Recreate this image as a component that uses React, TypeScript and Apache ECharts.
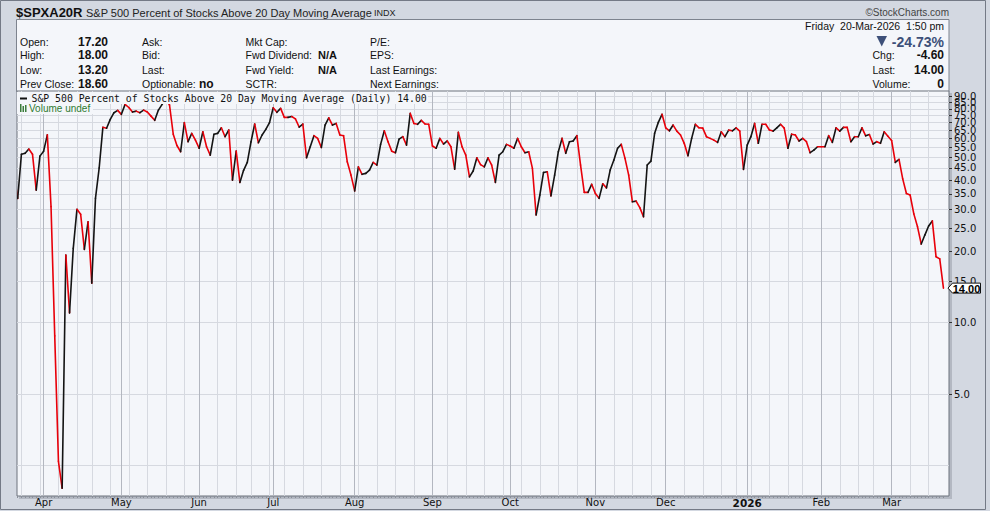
import React, { useEffect, useRef } from 'react';
import * as echarts from 'echarts';

// ---------- data ----------
const START_DATE = '2025-03-20';
const HOLIDAYS = ['2025-04-18', '2025-05-26', '2025-06-19', '2025-07-04', '2025-09-01', '2025-11-27', '2025-12-25', '2026-01-01', '2026-01-19', '2026-02-16'];

// daily closes of $SPXA20R from 2025-03-20 to 2026-03-20 (trading days)
const VALUES = [
  42, 33.5, 51.4, 51.9, 54.1, 51.4, 36.3, 50.5, 53.0, 62.1,
  30.9, 8.8, 2.6, 2.0, 19.3, 11.0, 20.6, 30.1, 28.7, 20.4,
  26.7, 14.7, 33.5, 45.0, 66.8, 66.2, 72.2, 77.0, 78.8, 75.8,
  83.5, 81.0, 77.5, 78.2, 77.0, 79.0, 77.5, 74.5, 71.5, 79.0,
  83.5, 88.0, 83.0, 62.5, 56.0, 52.7, 69.9, 58.1, 63.0, 59.0,
  54.5, 64.0, 55.3, 51.0, 62.5, 63.0, 66.5, 61.0, 65.1, 40.0,
  53.0, 39.1, 44.0, 47.5, 58.0, 69.0, 57.5, 62.0, 65.5, 69.9,
  80.8, 77.3, 80.3, 73.6, 73.6, 74.2, 72.5, 67.0, 69.0, 49.7,
  55.3, 61.6, 60.0, 54.9, 68.3, 73.3, 68.3, 69.4, 62.0, 61.6,
  47.8, 42.0, 36.0, 45.5, 42.3, 42.7, 44.1, 47.5, 46.3, 56.6,
  64.6, 58.1, 53.0, 52.2, 59.6, 61.0, 56.2, 76.5, 69.4, 68.8,
  71.5, 69.0, 68.8, 55.7, 54.5, 60.0, 56.8, 58.5, 55.3, 44.5,
  63.6, 55.3, 51.0, 41.3, 43.7, 49.7, 46.5, 45.5, 49.7, 46.3,
  39.1, 51.0, 52.7, 56.6, 55.7, 54.5, 60.0, 55.3, 52.2, 52.7,
  44.8, 28.5, 34.6, 43.1, 43.4, 34.3, 42.0, 52.7, 60.0, 51.9,
  58.1, 58.5, 61.6, 46.3, 35.5, 35.5, 38.4, 35.1, 33.5, 38.6,
  37.1, 44.1, 48.6, 54.5, 56.6, 49.4, 42.0, 32.4, 32.6, 30.6,
  28.0, 46.3, 48.1, 63.0, 70.1, 75.8, 66.5, 64.6, 68.3, 64.4,
  62.0, 57.2, 50.7, 60.0, 68.8, 66.5, 66.3, 61.0, 60.0, 59.0,
  57.7, 64.0, 61.0, 65.0, 64.6, 66.5, 64.4, 44.4, 56.2, 61.0,
  69.4, 57.2, 68.8, 68.8, 65.1, 64.4, 66.5, 68.8, 66.3, 54.5,
  62.5, 62.0, 58.5, 60.0, 58.1, 52.2, 53.5, 55.3, 55.3, 55.3,
  61.6, 57.7, 66.5, 64.4, 66.8, 66.8, 58.1, 61.0, 61.0, 66.5,
  61.5, 62.3, 56.8, 58.1, 57.2, 64.0, 61.3, 58.8, 47.5, 48.9,
  40.5, 35.1, 34.6, 28.8, 25.4, 21.5, 23.5, 25.6, 26.9, 19.0,
  18.6, 14.0,
];

const Y_GRID_VALUES = [2.5, 5, 10, 15, 20, 25, 30, 35, 40, 45, 50, 55, 60, 65, 70, 75, 80, 85, 90];
const Y_LABEL_VALUES = [5, 10, 15, 20, 25, 30, 35, 40, 45, 50, 55, 60, 65, 70, 75, 80, 85, 90];
const Y_RANGE = [1.856, 95.1];
const MONTH_NAMES = ['Jan', 'Feb', 'Mar', 'Apr', 'May', 'Jun', 'Jul', 'Aug', 'Sep', 'Oct', 'Nov', 'Dec'];

const SYMBOL = '$SPXA20R';
const SYMBOL_NAME = 'S&P 500 Percent of Stocks Above 20 Day Moving Average';
const EXCHANGE = 'INDX';
const QUOTE_DATE = 'Friday  20-Mar-2026  1:50 pm';
const OPEN_HIGH_LOW = ['17.20', '18.00', '13.20'];

// ---------- helpers ----------
const FONT = '"Liberation Sans", Arial, sans-serif';
const PLOT_BG = '#f4f6fa';

function tradingDates(start: string, count: number, holidays: string[]) {
  const out: Date[] = [];
  const hs = new Set(holidays);
  const d = new Date(start + 'T00:00:00Z');
  while (out.length < count) {
    const wd = d.getUTCDay();
    const iso = d.toISOString().slice(0, 10);
    if (wd !== 0 && wd !== 6 && !hs.has(iso)) out.push(new Date(d.getTime()));
    d.setUTCDate(d.getUTCDate() + 1);
  }
  return out;
}

function text(t: string, x: number, y: number, font: string, fill = '#111', align = 'left', z = 60) {
  return {
    type: 'text',
    x, y, z, silent: true,
    style: { text: t, font, fill, textAlign: align, align, textVerticalAlign: 'middle', verticalAlign: 'middle' },
  };
}

function buildOption() {
  const dates = tradingDates(START_DATE, VALUES.length, HOLIDAYS);
  const n = VALUES.length;
  const monthStarts: number[] = [];
  const weekStarts: number[] = [];
  const monthLabel = new Map<number, string>();
  for (let k = 1; k < n; k++) {
    const d = dates[k], p = dates[k - 1];
    if (d.getUTCMonth() !== p.getUTCMonth()) {
      monthStarts.push(k);
      monthLabel.set(k, d.getUTCMonth() === 0 ? '{y|' + d.getUTCFullYear() + '}' : MONTH_NAMES[d.getUTCMonth()]);
    }
    if (d.getUTCDay() < p.getUTCDay()) weekStarts.push(k);
  }
  const dayTicks: number[] = [];
  for (let k = 1; k < n; k++) dayTicks.push(k);

  const segData: number[][] = [];
  for (let k = 1; k < n; k++) segData.push([k, Math.log10(VALUES[k]), Math.log10(VALUES[k - 1])]);

  const last = VALUES[n - 1];
  const prev = VALUES[n - 2];
  const chg = last - prev;
  const pct = (chg / prev) * 100;

  const xMin = 0.81, xMax = 252.5;
  const yMin = Math.log10(Y_RANGE[0]), yMax = Math.log10(Y_RANGE[1]);

  const f11 = `10.5px ${FONT}`;
  const b12 = `bold 12px ${FONT}`;
  const b11 = `bold 11px ${FONT}`;
  const rows = [41.5, 55.3, 69.5, 83.5];

  const graphics: any[] = [
    { type: 'rect', silent: true, z: -5, shape: { x: 0.5, y: 0.5, width: 985, height: 509 }, style: { fill: 'none', stroke: '#747a86', lineWidth: 1 } },
    { type: 'rect', silent: true, z: -4, shape: { x: 16.5, y: 19.5, width: 932.5, height: 72 }, style: { fill: PLOT_BG, stroke: '#7d838e', lineWidth: 1 } },
    // plot shadow
    { type: 'rect', silent: true, z: -10, shape: { x: 19, y: 93, width: 933, height: 406 }, style: { fill: '#b3b8c2' } },
    text(SYMBOL, 16, 12, `bold 13px ${FONT}`, '#111'),
    text(SYMBOL_NAME, 86, 12.5, `11px ${FONT}`, '#222'),
    text(EXCHANGE, 374, 12.5, `9px ${FONT}`, '#222'),
    text('\u00A9StockCharts.com', 949, 12, `10px ${FONT}`, '#444', 'right'),
    // column 1
    text('Open:', 20, rows[0], f11), text('High:', 20, rows[1], f11), text('Low:', 20, rows[2], f11), text('Prev Close:', 20, rows[3], f11),
    text(OPEN_HIGH_LOW[0], 78, rows[0], b12), text(OPEN_HIGH_LOW[1], 78, rows[1], b12), text(OPEN_HIGH_LOW[2], 78, rows[2], b12), text(prev.toFixed(2), 78, rows[3], b12),
    // column 2
    text('Ask:', 142, rows[0], f11), text('Bid:', 142, rows[1], f11), text('Last:', 142, rows[2], f11), text('Optionable:', 142, rows[3], f11),
    text('no', 199, rows[3] + 0.5, b12),
    // column 3
    text('Mkt Cap:', 245.5, rows[0], f11), text('Fwd Dividend:', 245.5, rows[1], f11), text('Fwd Yield:', 245.5, rows[2], f11), text('SCTR:', 245.5, rows[3], f11),
    text('N/A', 318, rows[1], b11), text('N/A', 318, rows[2], b11),
    // column 4
    text('P/E:', 370, rows[0], f11), text('EPS:', 370, rows[1], f11), text('Last Earnings:', 370, rows[2], f11), text('Next Earnings:', 370, rows[3], f11),
    // right block
    text(QUOTE_DATE, 944, 26, f11, '#111', 'right'),
    { type: 'polygon', silent: true, z: 60, shape: { points: [[876.5, 36], [887, 36], [881.75, 46.5]] }, style: { fill: '#3d5079' } },
    text(pct.toFixed(2) + '%', 944, 41.5, `bold 14px ${FONT}`, '#3d5079', 'right'),
    text('Chg:', 872.5, rows[1], f11), text(chg.toFixed(2), 944, rows[1], b12, '#111', 'right'),
    text('Last:', 872.5, rows[2], f11), text(last.toFixed(2), 944, rows[2], b12, '#111', 'right'),
    text('Volume:', 872.5, rows[3], f11), text('0', 944, rows[3], b12, '#111', 'right'),
    // legend
    { type: 'rect', silent: true, z: 50, shape: { x: 17, y: 92, width: 411, height: 12 }, style: { fill: PLOT_BG } },
    { type: 'rect', silent: true, z: 60, shape: { x: 20, y: 97.5, width: 7, height: 2 }, style: { fill: '#111' } },
    text(`${SYMBOL_NAME} (Daily) ${last.toFixed(2)}`, 31.5, 98.5, `9.8px "DejaVu Sans Mono", monospace`, '#111'),
    { type: 'rect', silent: true, z: 50, shape: { x: 17, y: 104, width: 76, height: 10 }, style: { fill: PLOT_BG } },
    { type: 'rect', silent: true, z: 60, shape: { x: 20, y: 104, width: 1.5, height: 8 }, style: { fill: '#3b7d3b' } },
    { type: 'rect', silent: true, z: 60, shape: { x: 22.5, y: 106, width: 1.5, height: 6 }, style: { fill: '#3b7d3b' } },
    { type: 'rect', silent: true, z: 60, shape: { x: 25, y: 105, width: 1.5, height: 7 }, style: { fill: '#3b7d3b' } },
    text('Volume undef', 29, 108.5, `10px ${FONT}`, '#2e7a31'),
  ];

  const hiddenAxisBase = {
    type: 'value', min: xMin, max: xMax,
    axisLine: { show: false }, axisLabel: { show: false },
  };

  return {
    animation: false,
    backgroundColor: '#d3d8e1',
    grid: {
      left: 17, top: 91, width: 932, height: 405,
      show: true, backgroundColor: PLOT_BG, borderColor: '#6c727d', borderWidth: 1,
      containLabel: false, outerBoundsMode: 'none',
    },
    xAxis: [
      {
        type: 'value', min: xMin, max: xMax, position: 'bottom',
        axisLine: { show: false },
        axisTick: { show: true, customValues: dayTicks, length: 2, lineStyle: { color: '#8a8f99', width: 1 } },
        axisLabel: {
          customValues: monthStarts,
          formatter: (v: number) => monthLabel.get(Math.round(v)) || '',
          color: '#111', fontSize: 10, fontFamily: 'DejaVu Sans', margin: 1,
          showMinLabel: true, showMaxLabel: true,
          rich: { y: { fontWeight: 'bold', fontSize: 10.5, fontFamily: 'DejaVu Sans', color: '#111' } },
        },
        splitLine: { show: false },
      },
      {
        ...hiddenAxisBase, position: 'top',
        axisTick: { show: false, customValues: weekStarts.filter((k) => !monthStarts.includes(k)) },
        splitLine: { show: true, lineStyle: { color: '#d6d9e0', width: 1 } },
      },
      {
        ...hiddenAxisBase, position: 'top',
        axisTick: { show: false, customValues: monthStarts },
        splitLine: { show: true, lineStyle: { color: '#b3b7c0', width: 1 } },
      },
    ],
    yAxis: [
      {
        type: 'value', position: 'right', min: yMin, max: yMax,
        axisLine: { show: false },
        axisTick: { show: true, customValues: Y_LABEL_VALUES.map((v) => Math.log10(v)), length: 3, lineStyle: { color: '#333' } },
        axisLabel: { show: false },
        splitLine: { show: false },
      },
      {
        type: 'value', position: 'left', min: yMin, max: yMax,
        axisLine: { show: false }, axisLabel: { show: false },
        axisTick: { show: false, customValues: Y_GRID_VALUES.map((v) => Math.log10(v)) },
        splitLine: { show: true, lineStyle: { color: '#d6d9e0', width: 1 } },
      },
    ],
    graphic: { elements: graphics },
    series: [
      {
        type: 'custom',
        clip: true,
        z: 5,
        xAxisIndex: 0,
        yAxisIndex: 0,
        dimensions: ['x', 'y', 'py'],
        encode: { x: 0, y: 1 },
        data: segData,
        renderItem: (params: any, api: any) => {
          const x = api.value(0), y = api.value(1), py = api.value(2);
          const p1 = api.coord([x - 1, py]);
          const p2 = api.coord([x, y]);
          return {
            type: 'line',
            shape: { x1: p1[0], y1: p1[1], x2: p2[0], y2: p2[1] },
            style: { stroke: y > py ? '#141414' : '#e8000a', lineWidth: 1.6, lineCap: 'round' },
          };
        },
      },
      {
        // right-hand price-axis labels, placed through the y axis scale
        type: 'custom',
        clip: false,
        z: 8,
        xAxisIndex: 0,
        yAxisIndex: 0,
        encode: { x: 0, y: 1 },
        data: Y_LABEL_VALUES.map((v) => [xMax, Math.log10(v)]),
        renderItem: (params: any, api: any) => {
          const pt = api.coord([api.value(0), api.value(1)]);
          const cs = params.coordSys;
          return {
            type: 'text',
            x: cs.x + cs.width + 5, y: pt[1],
            style: {
              text: Math.pow(10, api.value(1)).toFixed(1),
              font: '10px "DejaVu Sans", sans-serif', fill: '#111',
              textAlign: 'left', align: 'left', textVerticalAlign: 'middle', verticalAlign: 'middle',
            },
          };
        },
      },
      {
        type: 'custom',
        clip: false,
        z: 20,
        xAxisIndex: 0,
        yAxisIndex: 0,
        encode: { x: 0, y: 1 },
        data: [[n - 1, Math.log10(last)]],
        renderItem: (params: any, api: any) => {
          const pt = api.coord([api.value(0), api.value(1)]);
          const cs = params.coordSys;
          const xr = cs.x + cs.width;
          const yc = pt[1];
          return {
            type: 'group',
            children: [
              {
                type: 'polygon',
                shape: { points: [[xr - 1, yc], [xr + 3.5, yc - 5], [xr + 31.5, yc - 5], [xr + 31.5, yc + 5], [xr + 3.5, yc + 5]] },
                style: { fill: '#ffffff', stroke: '#111', lineWidth: 1 },
              },
              {
                type: 'text',
                x: xr + 17.5, y: yc + 0.5,
                style: { text: last.toFixed(2), font: `bold 11px ${FONT}`, fill: '#000', textAlign: 'center', align: 'center', textVerticalAlign: 'middle', verticalAlign: 'middle' },
              },
            ],
          };
        },
      },
    ],
  };
}

export default function App() {
  const ref = useRef<HTMLDivElement>(null);
  useEffect(() => {
    const chart = echarts.init(ref.current!, null, { renderer: 'svg' });
    chart.setOption(buildOption() as any);
    return () => chart.dispose();
  }, []);
  return <div ref={ref} style={{ position: 'absolute', left: 0, top: 0, width: 990, height: 511 }} />;
}
